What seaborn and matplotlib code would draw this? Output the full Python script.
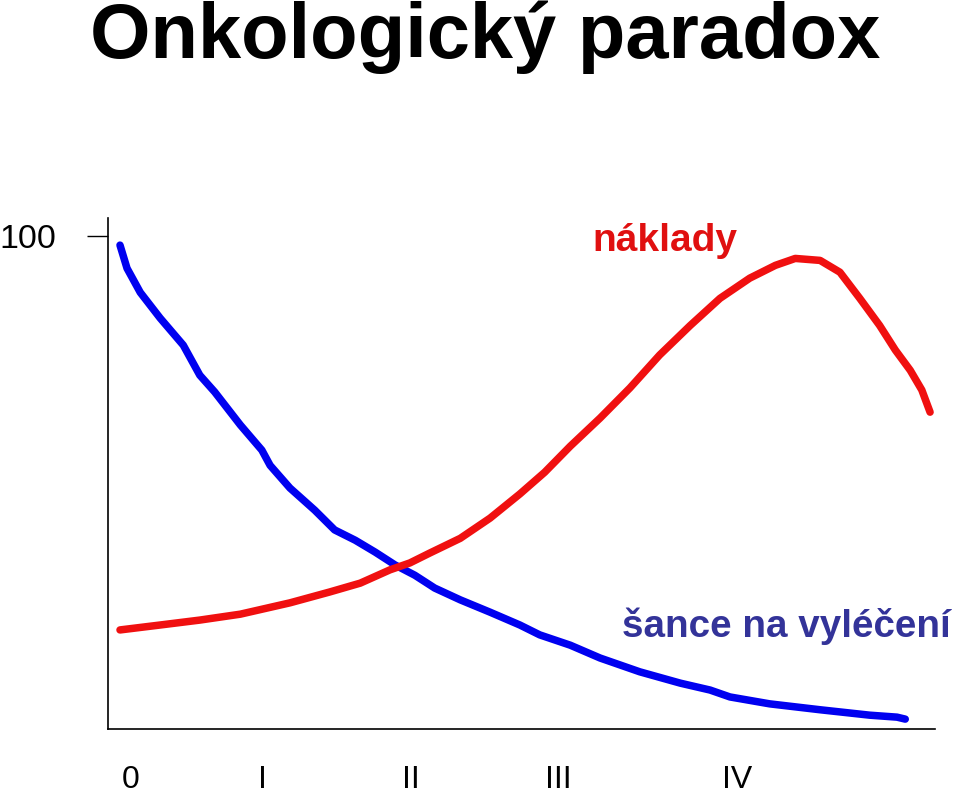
import numpy as np
import pandas as pd
import seaborn as sns
import matplotlib.pyplot as plt

# stage labels on the x axis and where they sit (x runs 0..100)
stages = ['0', 'I', 'II', 'III', 'IV']
stage_pos = [2.7, 18.7, 36.6, 54.5, 76.1]

# chance of cure (blue)
cure_x = [1.45, 2.3, 3.9, 6.3, 9.1, 11.1, 12.9, 16.0, 18.6, 19.6, 22.0, 25.0, 27.4, 29.9,
          32.3, 34.7, 37.1, 39.5, 42.6, 46.2, 49.8, 52.2, 55.9, 59.5, 64.3, 69.2, 72.8,
          75.2, 80.0, 86.1, 92.1, 95.4, 96.4]
cure_y = [98.2, 93.5, 88.6, 83.4, 77.9, 71.8, 68.4, 61.7, 56.6, 53.5, 48.9, 44.4, 40.4, 38.3,
          35.9, 33.3, 31.2, 28.6, 26.2, 23.7, 21.1, 19.1, 17.0, 14.4, 11.6, 9.3, 7.9,
          6.5, 5.1, 3.9, 2.8, 2.4, 2.0]

# costs (red)
cost_x = [1.45, 6.3, 11.1, 16.0, 22.0, 26.8, 30.5, 34.1, 36.5, 38.9, 42.6, 46.2, 49.8, 52.8,
          55.9, 59.5, 63.1, 66.7, 70.4, 74.0, 77.6, 80.7, 83.1, 86.1, 88.5, 90.9, 93.3,
          95.2, 97.0, 98.4, 99.4]
cost_y = [20.1, 21.1, 22.1, 23.3, 25.6, 27.8, 29.6, 32.3, 33.7, 35.7, 38.7, 42.8, 47.7, 52.1,
          57.4, 63.1, 69.2, 75.9, 81.9, 87.4, 91.5, 94.1, 95.5, 95.1, 92.7, 87.4, 81.9,
          76.9, 72.8, 68.8, 64.3]

sns.set_style('white')
plt.rcParams['font.family'] = ['Liberation Sans', 'DejaVu Sans']
plt.rcParams['text.color'] = 'black'
plt.rcParams['xtick.color'] = 'black'
plt.rcParams['ytick.color'] = 'black'

fig = plt.figure(figsize=(9.6, 7.94), dpi=100)
ax = fig.add_axes([0.1125, 0.0819, 0.8615, 0.6435])

cure = pd.DataFrame({'x': cure_x, 'y': cure_y})
cost = pd.DataFrame({'x': cost_x, 'y': cost_y})
sns.lineplot(data=cure, x='x', y='y', sort=False, color='#0000f0', lw=5.4, ax=ax)
sns.lineplot(data=cost, x='x', y='y', sort=False, color='#f01010', lw=5.4, ax=ax)

ax.set_xlim(0, 100)
ax.set_ylim(0, 103.7)
ax.set_xlabel('')
ax.set_ylabel('')

ax.set_yticks([100])
ax.set_yticklabels(['100'], fontsize=24.5)
ax.tick_params(axis='y', left=True, length=15, width=1, pad=22, colors='black')
ax.set_xticks(stage_pos)
ax.set_xticklabels(stages, fontsize=23)
ax.tick_params(axis='x', bottom=False, length=0, pad=26)

for s in ['top', 'right']:
    ax.spines[s].set_visible(False)
for s in ['left', 'bottom']:
    ax.spines[s].set_color('black')
    ax.spines[s].set_linewidth(1.2)

fig.text(90 / 960, 1 - 58 / 794, 'Onkologický paradox', fontsize=56, fontweight='bold',
         color='black', ha='left', va='baseline')
fig.text(592 / 960, 1 - 251 / 794, 'náklady', fontsize=28, fontweight='bold',
         color='#e01010', ha='left', va='baseline')
fig.text(622 / 960, 1 - 637 / 794, 'šance na vyléčení', fontsize=27.8, fontweight='bold',
         color='#333399', ha='left', va='baseline')

fig.savefig('out.png', dpi=100)
